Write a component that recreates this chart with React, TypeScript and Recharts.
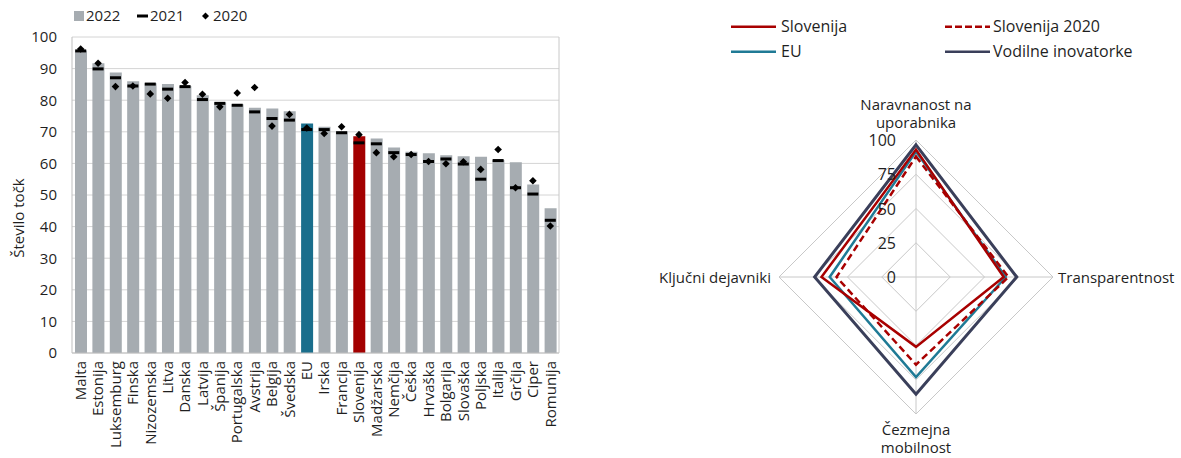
import React from "react";
import {
  ComposedChart,
  Bar,
  Line,
  Cell,
  XAxis,
  YAxis,
  CartesianGrid,
  RadarChart,
  Radar,
  PolarGrid,
  PolarAngleAxis,
  PolarRadiusAxis,
} from "recharts";

// left chart data
const countries = [
  "Malta", "Estonija", "Luksemburg", "Finska", "Nizozemska", "Litva", "Danska",
  "Latvija", "Španija", "Portugalska", "Avstrija", "Belgija", "Švedska", "EU",
  "Irska", "Francija", "Slovenija", "Madžarska", "Nemčija", "Češka", "Hrvaška",
  "Bolgarija", "Slovaška", "Poljska", "Italija", "Grčija", "Ciper", "Romunija",
];
const score2022 = [
  95.7, 91.7, 88.8, 86.0, 85.4, 85.1, 84.5, 81.6, 79.3, 78.7, 77.6, 77.4, 76.5, 72.6,
  71.6, 70.2, 68.6, 67.9, 65.0, 63.7, 63.2, 62.6, 62.3, 62.1, 61.1, 60.4, 53.3, 45.8,
];
const score2021 = [
  95.6, 89.9, 87.1, 84.5, 85.1, 83.5, 84.3, 80.2, 79.0, 78.4, 76.3, 74.2, 73.7, 70.7,
  70.7, 69.7, 66.5, 66.2, 63.4, 62.8, 60.6, 61.4, 59.8, 55.0, 60.9, 52.3, 50.3, 42.0,
];
const score2020 = [
  96.2, 91.7, 84.3, 84.5, 82.0, 80.6, 85.6, 81.9, 77.9, 82.3, 84.0, 71.8, 75.5, 71.2,
  69.5, 71.6, 69.1, 63.4, 62.1, 62.8, 60.6, 59.9, 60.5, 58.1, 64.4, 52.3, 54.5, 40.2,
];
const yTicks = [0, 10, 20, 30, 40, 50, 60, 70, 80, 90, 100];

// right chart data
const pillars = [
  "Naravnanost na\nuporabnika",
  "Transparentnost",
  "Čezmejna\nmobilnost",
  "Ključni dejavniki",
];
const slovenija = [93, 64, 51, 69];
const slovenija2020 = [88, 67.5, 64, 58];
const euAvg = [91.5, 65.5, 73, 63];
const leaders = [96.5, 73.5, 85.5, 74];

const FONT = "'Open Sans', sans-serif";
const TXT = "#1f1f1f";
const GRAY = "#a6acb1";
const TEAL_BAR = "#1a6e8c";
const RED_BAR = "#a30000";
const RED = "#a80000";
const TEAL = "#1f7a95";
const NAVY = "#3a3f5a";

const barData = countries.map((c, i) => ({
  country: c,
  v2022: score2022[i],
  v2021: score2021[i],
  v2020: score2020[i],
}));

const radarData = pillars.map((p, i) => ({
  pillar: p,
  slo: slovenija[i],
  slo2020: slovenija2020[i],
  eu: euAvg[i],
  lead: leaders[i],
}));

const barColor = (c: string) =>
  c === "EU" ? TEAL_BAR : c === "Slovenija" ? RED_BAR : GRAY;

const DashDot = (props: any) => {
  const { cx, cy, index } = props;
  if (cx == null || cy == null) return <g key={index} />;
  return <rect key={index} x={cx - 5.5} y={cy - 1.5} width={11} height={3} fill="#000" />;
};

const DiamondDot = (props: any) => {
  const { cx, cy, index } = props;
  if (cx == null || cy == null) return <g key={index} />;
  const s = 3.8;
  return (
    <path
      key={index}
      d={`M${cx},${cy - s} L${cx + s},${cy} L${cx},${cy + s} L${cx - s},${cy} Z`}
      fill="#000"
    />
  );
};

const CountryTick = ({ x, y, payload }: any) => (
  <text
    x={x}
    y={y}
    transform={`rotate(-90, ${x}, ${y})`}
    textAnchor="end"
    dy="0.35em"
    fontSize={15}
    fontFamily={FONT}
    fill={TXT}
  >
    {payload.value}
  </text>
);

const RadiusTick = ({ x, y, payload }: any) => (
  <text
    x={x - 20}
    y={y}
    textAnchor="end"
    dominantBaseline="central"
    fontSize={16}
    fontFamily={FONT}
    fill={TXT}
  >
    {payload.value}
  </text>
);

const PillarTick = ({ x, y, payload, index }: any) => {
  const lines: string[] = String(payload.value).split("\n");
  const common = { fontSize: 15, fontFamily: FONT, fill: TXT };
  if (index === 0 || index === 2) {
    const y0 = index === 0 ? y - 22 : y + 13;
    return (
      <g>
        <text x={x} y={y0} textAnchor="middle" {...common}>{lines[0]}</text>
        <text x={x} y={y0 + 18} textAnchor="middle" {...common}>{lines[1]}</text>
      </g>
    );
  }
  if (index === 1) {
    return (
      <text x={x - 3} y={y} textAnchor="start" dominantBaseline="central" {...common}>
        {lines[0]}
      </text>
    );
  }
  return (
    <text x={x} y={y} textAnchor="end" dominantBaseline="central" {...common}>
      {lines[0]}
    </text>
  );
};

export default function App() {
  return (
    <div
      style={{
        position: "absolute",
        left: 0,
        top: 0,
        width: 1181,
        height: 458,
        background: "#fff",
        fontFamily: FONT,
      }}
    >
      {/* left: bars with 2021/2020 markers */}
      <div style={{ position: "absolute", left: 0, top: 0 }}>
        <ComposedChart
          width={570}
          height={458}
          data={barData}
          margin={{ top: 37, right: 10, left: 0, bottom: 0 }}
        >
          <CartesianGrid vertical={false} stroke="#d4d4d4" yAxisId="left" />
          <XAxis
            dataKey="country"
            interval={0}
            height={105}
            tickLine={false}
            axisLine={{ stroke: "#bfbfbf" }}
            tick={<CountryTick />}
          />
          <YAxis
            yAxisId="left"
            domain={[0, 100]}
            ticks={yTicks}
            width={72}
            tickLine={false}
            tickMargin={9}
            axisLine={{ stroke: "#bfbfbf" }}
            tick={{ fontSize: 15, fontFamily: FONT, fill: TXT }}
          />
          <YAxis
            yAxisId="right"
            orientation="right"
            domain={[0, 100]}
            width={1}
            tick={false}
            tickLine={false}
            axisLine={{ stroke: "#c8c8c8" }}
          />
          <Bar yAxisId="left" dataKey="v2022" barSize={12} isAnimationActive={false}>
            {barData.map((d) => (
              <Cell key={d.country} fill={barColor(d.country)} />
            ))}
          </Bar>
          <Line
            yAxisId="left"
            dataKey="v2021"
            stroke="none"
            dot={DashDot}
            activeDot={false}
            isAnimationActive={false}
          />
          <Line
            yAxisId="left"
            dataKey="v2020"
            stroke="none"
            dot={DiamondDot}
            activeDot={false}
            isAnimationActive={false}
          />
        </ComposedChart>
      </div>

      {/* right: radar */}
      <div style={{ position: "absolute", left: 640, top: 0 }}>
        <RadarChart
          width={541}
          height={458}
          data={radarData}
          cx={276}
          cy={277}
          outerRadius={137}
          margin={{ top: 0, right: 0, bottom: 0, left: 0 }}
        >
          <PolarGrid gridType="polygon" stroke="#c8c8c8" />
          <PolarAngleAxis
            dataKey="pillar"
            axisLine={false}
            tickLine={false}
            tick={<PillarTick />}
          />
          <PolarRadiusAxis
            angle={90}
            domain={[0, 100]}
            tickCount={5}
            axisLine={false}
            tickLine={false}
            tick={<RadiusTick />}
          />
          <Radar dataKey="lead" stroke={NAVY} strokeWidth={3} fill="none" fillOpacity={0} dot={false} isAnimationActive={false} />
          <Radar dataKey="eu" stroke={TEAL} strokeWidth={2.5} fill="none" fillOpacity={0} dot={false} isAnimationActive={false} />
          <Radar dataKey="slo2020" stroke={RED} strokeWidth={2.5} strokeDasharray="7 4" fill="none" fillOpacity={0} dot={false} isAnimationActive={false} />
          <Radar dataKey="slo" stroke={RED} strokeWidth={2.5} fill="none" fillOpacity={0} dot={false} isAnimationActive={false} />
        </RadarChart>
      </div>

      {/* legends and axis title */}
      <svg
        width={1181}
        height={458}
        style={{ position: "absolute", left: 0, top: 0, pointerEvents: "none" }}
        fontFamily={FONT}
      >
        <text
          x={18}
          y={218}
          transform="rotate(-90, 18, 218)"
          textAnchor="middle"
          dominantBaseline="central"
          fontSize={15}
          fill={TXT}
        >
          Število točk
        </text>

        <rect x={74} y={11} width={10} height={10} fill={GRAY} />
        <text x={86} y={21} fontSize={15} fill={TXT}>2022</text>
        <rect x={137} y={14.5} width={11} height={3} fill="#000" />
        <text x={150} y={21} fontSize={15} fill={TXT}>2021</text>
        <path d="M205.5,12.5 L209,16 L205.5,19.5 L202,16 Z" fill="#000" />
        <text x={213} y={21} fontSize={15} fill={TXT}>2020</text>

        <line x1={731} x2={776} y1={26.7} y2={26.7} stroke={RED} strokeWidth={2.5} />
        <text x={781} y={32} fontSize={16} fill={TXT}>Slovenija</text>
        <line x1={945} x2={990} y1={26.7} y2={26.7} stroke={RED} strokeWidth={2.5} strokeDasharray="7 3" />
        <text x={993} y={32} fontSize={16} fill={TXT}>Slovenija 2020</text>
        <line x1={731} x2={776} y1={51.7} y2={51.7} stroke={TEAL} strokeWidth={2.5} />
        <text x={781} y={57} fontSize={16} fill={TXT}>EU</text>
        <line x1={945} x2={990} y1={51.7} y2={51.7} stroke={NAVY} strokeWidth={2.5} />
        <text x={993} y={57} fontSize={16} fill={TXT}>Vodilne inovatorke</text>
      </svg>
    </div>
  );
}
